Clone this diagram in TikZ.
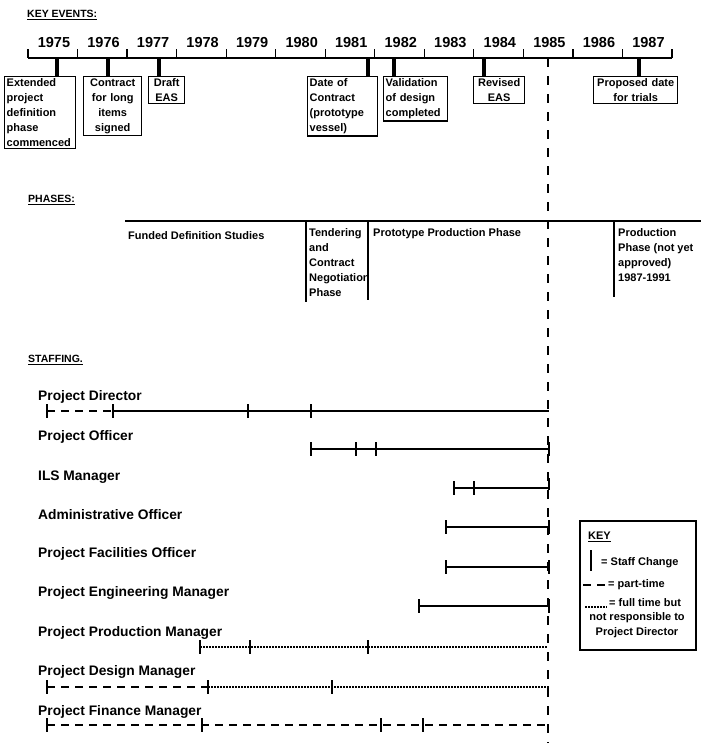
\documentclass[tikz,border=0pt]{standalone}
\usepackage{fontspec}
\setmainfont{Liberation Sans}

\begin{document}
\begin{tikzpicture}[x=1pt,y=-1pt,
    every node/.style={inner sep=0pt, font=\bfseries},
    heading/.style={anchor=west, font=\fontsize{10.5}{12}\selectfont\bfseries},
    evbox/.style={draw, line width=1.4pt, anchor=north west, inner sep=2pt,
        font=\fontsize{11}{15}\selectfont\bfseries},
    evbar/.style={line width=4pt},
    phasetext/.style={anchor=north west, align=left, font=\fontsize{11}{15}\selectfont\bfseries},
    stafflabel/.style={anchor=west, font=\fontsize{13.8}{15}\selectfont\bfseries},
    keytext/.style={font=\fontsize{11}{14}\selectfont\bfseries},
    fulltime/.style={line width=1.2pt},
    parttime/.style={line width=1.2pt, dash pattern=on 8pt off 6pt},
    notresp/.style={line width=1.2pt, dash pattern=on 1.5pt off 1.5pt},
    stick/.style={line width=1.2pt},
    nowline/.style={line width=1.6pt, dash pattern=on 9pt off 9pt}]

    \useasboundingbox (0,0) rectangle (701,745);

    % Key events
    \node[heading] (hevents) at (27,15) {\underline{KEY EVENTS:}};

    % Time axis
    \coordinate (axl) at (28,58);
    \coordinate (axr) at (672,58);
    \draw[line width=2pt] (axl) -- (axr);
    \foreach \i in {0,...,13} {
        \draw[stick] ({28+49.54*\i},49) -- ({28+49.54*\i},58);
    }
    \foreach \yr [count=\i from 0] in {1975,...,1987} {
        \node[font=\fontsize{14.5}{15}\selectfont\bfseries] (y\yr) at ({54+49.54*\i},43) {\yr};
    }

    % Event boxes
    \node[evbox, text width=67pt, align=left] (e75) at (4,76)
        {Extended\\project\\definition\\phase\\commenced};
    \node[evbox, text width=54pt, align=center] (e76) at (83,76)
        {Contract\\for long\\items\\signed};
    \node[evbox, text width=32pt, align=center] (e77) at (148,76) {Draft\\EAS};
    \node[evbox, text width=66pt, align=left] (e81) at (307,76)
        {Date of\\Contract\\(prototype\\vessel)};
    \node[evbox, text width=60pt, align=left] (e82) at (383,76)
        {Validation\\of design\\completed};
    \node[evbox, text width=47pt, align=center] (e84) at (473,76) {Revised\\EAS};
    \node[evbox, text width=80pt, align=center] (e87) at (593,76)
        {Proposed date\\for trials};

    % Event markers
    \foreach \ev/\xx in {e75/57, e76/108, e77/159, e81/368, e82/394, e84/484, e87/639} {
        \coordinate (m\ev) at (\xx,58);
        \draw[evbar] (m\ev) -- (m\ev |- \ev.north);
    }

    % Present date
    \coordinate (nowtop) at (548,58);
    \coordinate (nowbot) at (548,743);
    \draw[nowline] (nowtop) -- (nowbot);

    % Phases
    \node[heading] (hphases) at (28,200) {\underline{PHASES:}};
    \coordinate (pl) at (125,221);
    \coordinate (pr) at (701,221);
    \draw[line width=2.5pt] (pl) -- (pr);
    \draw[line width=2pt] (306,221) -- (306,302);
    \draw[line width=2pt] (368,221) -- (368,300);
    \draw[line width=2pt] (614,221) -- (614,297);

    \node[phasetext] (pfunded) at (128,231) {Funded Definition Studies};
    \node[phasetext] (ptender) at (309,228)
        {Tendering\\and\\Contract\\Negotiation\\Phase};
    \node[phasetext] (pproto) at (373,228) {Prototype Production Phase};
    \node[phasetext] (pprod) at (618,228)
        {Production\\Phase (not yet\\approved)\\1987-1991};

    % Staffing
    \node[heading] (hstaff) at (28,360) {\underline{STAFFING.}};
    \foreach \name/\yy [count=\k] in {Project Director/397, Project Officer/437,
        ILS Manager/477, Administrative Officer/515, Project Facilities Officer/554,
        Project Engineering Manager/593, Project Production Manager/633,
        Project Design Manager/672, Project Finance Manager/712} {
        \node[stafflabel] (s\k) at (38,\yy) {\name};
    }

    % Project Director
    \draw[parttime] (47,411) -- (113,411);
    \draw[fulltime] (113,411) -- (549,411);
    \foreach \xx in {47,113,248,311} \draw[stick] (\xx,404) -- (\xx,418);

    % Project Officer
    \draw[fulltime] (311,449) -- (549,449);
    \foreach \xx in {311,356,376,549} \draw[stick] (\xx,442) -- (\xx,456);

    % ILS Manager
    \draw[fulltime] (454,488) -- (549,488);
    \foreach \xx in {454,474} \draw[stick] (\xx,481) -- (\xx,495);
    \draw[stick] (549,478) -- (549,490);

    % Administrative Officer
    \draw[fulltime] (446,527) -- (549,527);
    \foreach \xx in {446,549} \draw[stick] (\xx,520) -- (\xx,534);

    % Project Facilities Officer
    \draw[fulltime] (446,567) -- (549,567);
    \foreach \xx in {446,549} \draw[stick] (\xx,560) -- (\xx,574);

    % Project Engineering Manager
    \draw[fulltime] (419,606) -- (549,606);
    \foreach \xx in {419,549} \draw[stick] (\xx,599) -- (\xx,613);

    % Project Production Manager
    \draw[notresp] (200,647) -- (547,647);
    \foreach \xx in {200,250,368} \draw[stick] (\xx,640) -- (\xx,654);

    % Project Design Manager
    \draw[parttime] (47,687) -- (208,687);
    \draw[notresp] (208,687) -- (549,687);
    \foreach \xx in {47,208,332} \draw[stick] (\xx,680) -- (\xx,694);

    % Project Finance Manager
    \draw[parttime] (47,725) -- (549,725);
    \foreach \xx in {47,202,381,423} \draw[stick] (\xx,718) -- (\xx,732);

    % Key
    \node[draw, line width=2pt, anchor=north west, minimum width=116pt,
        minimum height=129pt] (key) at (579,520) {};
    \node[keytext, anchor=west] (khead) at (588,537) {\underline{KEY}};
    \draw[line width=1.6pt] (591,550) -- (591,571);
    \node[keytext, anchor=west] (kchange) at (601,563) {= Staff Change};
    \draw[parttime] (583,585) -- (605,585);
    \node[keytext, anchor=west] (kpart) at (608,585) {= part-time};
    \draw[notresp] (585,607) -- (607,607);
    \node[keytext, anchor=west] (kfull) at (609,603) {= full time but};
    \node[keytext] (knot) at (637,618) {not responsible to};
    \node[keytext] (kdir) at (637,633) {Project Director};

\end{tikzpicture}
\end{document}
